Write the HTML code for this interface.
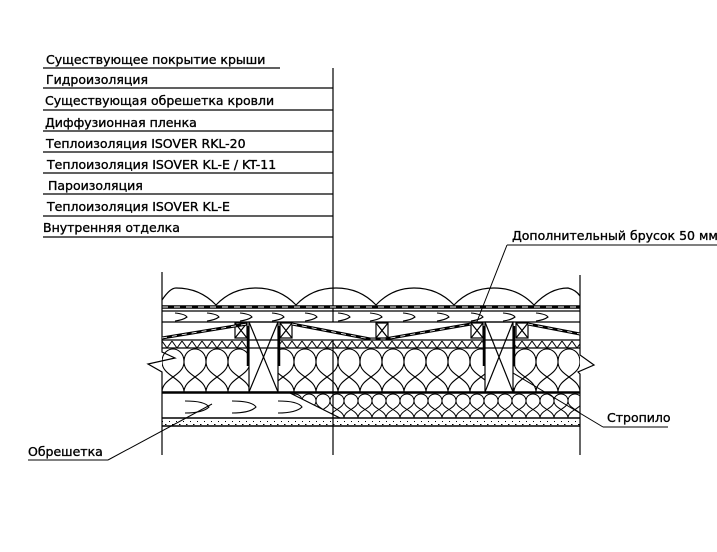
<!DOCTYPE html>
<html><head><meta charset="utf-8"><style>
html,body{margin:0;padding:0;background:#fff;}
svg{display:block}
text{font-family:"DejaVu Sans","Liberation Sans",sans-serif;font-size:12.5px;fill:#000;stroke:#000;stroke-width:0.35}
</style></head><body>
<svg width="717" height="552" viewBox="0 0 717 552" xmlns="http://www.w3.org/2000/svg">
<defs>
<pattern id="ins" x="162" y="348" width="22" height="44" patternUnits="userSpaceOnUse">
<path d="M0,44 C0,30 22,28 22,14 C22,4 15,1 11,1 C7,1 0,4 0,14 C0,28 22,30 22,44" fill="none" stroke="#000" stroke-width="1.1"/>
</pattern>
<pattern id="ins2" x="162" y="393" width="14" height="25" patternUnits="userSpaceOnUse">
<path d="M0,25 C0,17 14,16 14,8 C14,3 10,1 7,1 C4,1 0,3 0,8 C0,16 14,17 14,25" fill="none" stroke="#000" stroke-width="1"/>
</pattern>
<pattern id="zz" x="162" y="340" width="10" height="9" patternUnits="userSpaceOnUse">
<path d="M0,1 L5,8 L10,1" fill="none" stroke="#000" stroke-width="1"/>
</pattern>
<pattern id="dots" x="0" y="0" width="7" height="6" patternUnits="userSpaceOnUse">
<rect x="1" y="1" width="1" height="1" fill="#000"/><rect x="4" y="4" width="1.5" height="1" fill="#000"/>
</pattern>
</defs>

<g stroke="#000" stroke-width="1.2" fill="none">
<line x1="43" y1="68" x2="280" y2="68"/>
<line x1="43" y1="88" x2="333" y2="88"/>
<line x1="43" y1="110" x2="333" y2="110"/>
<line x1="43" y1="131" x2="333" y2="131"/>
<line x1="43" y1="152" x2="333" y2="152"/>
<line x1="43" y1="173" x2="333" y2="173"/>
<line x1="43" y1="194" x2="333" y2="194"/>
<line x1="43" y1="216" x2="333" y2="216"/>
<line x1="43" y1="237" x2="333" y2="237"/>
<line x1="333" y1="68" x2="333" y2="455"/>
</g>
<text x="46" y="64">Существующее покрытие крыши</text>
<text x="46" y="84">Гидроизоляция</text>
<text x="45" y="105">Существующая обрешетка кровли</text>
<text x="45" y="127">Диффузионная пленка</text>
<text x="46" y="148">Теплоизоляция ISOVER RKL-20</text>
<text x="47" y="169">Теплоизоляция ISOVER KL-E / KT-11</text>
<text x="48" y="190">Пароизоляция</text>
<text x="47" y="211">Теплоизоляция ISOVER KL-E</text>
<text x="43" y="232">Внутренняя отделка</text>

<text x="512" y="240">Дополнительный брусок 50 мм</text>
<text x="607" y="422">Стропило</text>
<text x="28" y="456">Обрешетка</text>
<g stroke="#000" stroke-width="1" fill="none">
<line x1="507" y1="245" x2="717" y2="245"/><line x1="507" y1="245" x2="476" y2="324"/>
<line x1="603" y1="427" x2="668" y2="427"/><line x1="603" y1="427" x2="503" y2="367"/>
<line x1="28" y1="460" x2="108" y2="460"/><line x1="108" y1="460" x2="212" y2="404"/>
</g>

<rect x="162" y="348" width="418" height="44" fill="url(#ins)"/>
<rect x="162" y="340" width="418" height="8" fill="url(#zz)"/>
<path d="M290,393 L580,393 L580,418 L340,418 Z" fill="url(#ins2)"/>
<rect x="162" y="419" width="418" height="7" fill="url(#dots)"/>
<rect x="249" y="322" width="29" height="70" fill="#fff"/>
<rect x="485" y="322" width="28" height="70" fill="#fff"/>
<rect x="162" y="322" width="418" height="18" fill="#fff"/>
<g stroke="#000" fill="none" stroke-width="1.2">
<path d="M162,300 Q170,288 176,288 Q200,288 216,305 Q232,288 256,288 Q280,288 296,305 Q312,288 336,288 Q360,288 376,305 Q392,288 414,288 Q438,288 454,305 Q470,288 494,288 Q518,288 534,305 Q550,288 568,288 Q576,290 580,296"/>
<line x1="162" y1="307" x2="580" y2="307" stroke-width="3.5"/>
<line x1="162" y1="307" x2="580" y2="307" stroke="#fff" stroke-width="1" stroke-dasharray="6 6"/>
<line x1="162" y1="311" x2="580" y2="311"/>
<line x1="162" y1="322" x2="580" y2="322"/>
<line x1="162" y1="340" x2="580" y2="340"/>
<line x1="162" y1="348" x2="580" y2="348"/>
<line x1="162" y1="392.5" x2="580" y2="392.5" stroke-width="2.5"/>
<line x1="162" y1="418" x2="580" y2="418" stroke-width="1.5"/>
<line x1="162" y1="426" x2="580" y2="426" stroke-width="1.5"/>
<line x1="290" y1="393" x2="340" y2="418"/>
<path d="M162,272 L162,352 L175,358 L148,364 L162,372 L162,455"/>
<path d="M580,275 L580,355 L594,365 L578,372 L580,374 L580,455"/>
<rect x="249" y="322" width="29" height="70"/>
<path d="M249,322 L278,392 M278,322 L249,392"/>
<rect x="485" y="322" width="28" height="70"/>
<path d="M485,322 L513,392 M513,322 L485,392"/>
<path d="M248,326 L248,366 M279,326 L279,366 M484,326 L484,366 M514,326 L514,366" stroke-width="2.5"/>
<g>
<rect x="235" y="323" width="12" height="15"/><path d="M235,323 L247,338 M247,323 L235,338"/>
<rect x="280" y="323" width="12" height="15"/><path d="M280,323 L292,338 M292,323 L280,338"/>
<rect x="376" y="323" width="12" height="15"/><path d="M376,323 L388,338 M388,323 L376,338"/>
<rect x="471" y="323" width="12" height="15"/><path d="M471,323 L483,338 M483,323 L471,338"/>
<rect x="516" y="323" width="12" height="15"/><path d="M516,323 L528,338 M528,323 L516,338"/>
</g>
<path d="M162,338 L247,324 M292,324 L370,339 L385,339 L471,324 M528,324 L580,334" stroke-width="3"/>
<path d="M162,338 L247,324 M292,324 L370,339 L385,339 L471,324 M528,324 L580,334" stroke="#fff" stroke-width="0.8" stroke-dasharray="5 5"/>
<g stroke-width="1.1">
<path d="M175,313 q10,1 12,4 q-4,3 -12,4"/>
<path d="M207,313 q10,1 12,4 q-4,3 -12,4"/>
<path d="M240,313 q10,1 12,4 q-4,3 -12,4"/>
<path d="M272,313 q10,1 12,4 q-4,3 -12,4"/>
<path d="M305,313 q10,1 12,4 q-4,3 -12,4"/>
<path d="M338,313 q10,1 12,4 q-4,3 -12,4"/>
<path d="M370,313 q10,1 12,4 q-4,3 -12,4"/>
<path d="M403,313 q10,1 12,4 q-4,3 -12,4"/>
<path d="M437,313 q10,1 12,4 q-4,3 -12,4"/>
<path d="M471,313 q10,1 12,4 q-4,3 -12,4"/>
<path d="M503,313 q10,1 12,4 q-4,3 -12,4"/>
<path d="M536,313 q10,1 12,4 q-4,3 -12,4"/>
<path d="M185,401 q20,0 24,6 q-6,6 -24,6"/>
<path d="M232,401 q20,0 24,6 q-6,6 -24,6"/>
<path d="M278,401 q20,0 24,6 q-6,6 -24,6"/>
</g>
</g>
</svg>
</body></html>
